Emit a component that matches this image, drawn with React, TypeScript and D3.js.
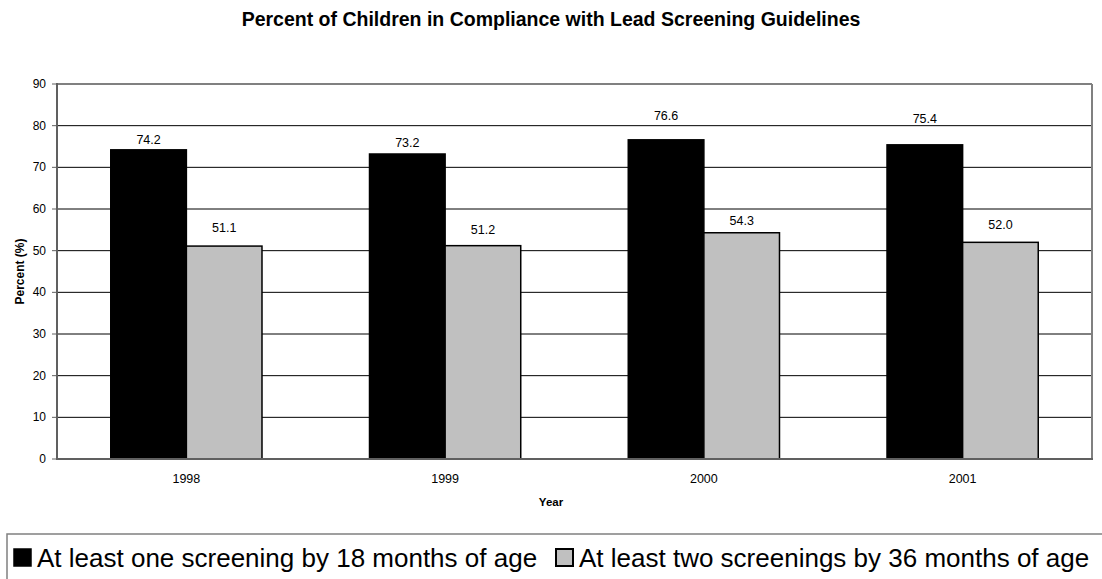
import React from "react";
import * as d3 from "d3";

const years = ["1998", "1999", "2000", "2001"];
const seriesNames = [
  "At least one screening by 18 months of age",
  "At least two screenings by 36 months of age",
];
const oneBy18 = [74.2, 73.2, 76.6, 75.4];
const twoBy36 = [51.1, 51.2, 54.3, 52.0];
const yTicks = [0, 10, 20, 30, 40, 50, 60, 70, 80, 90];

// label distance above bar top (px), styling only
const labelGapOne = [10, 11, 24, 26];
const labelGapTwo = [18, 16, 12, 17];

const W = 1102;
const H = 579;
const plot = { left: 57, right: 1092, top: 84, bottom: 459 };
const FONT = "Arial, 'Liberation Sans', Helvetica, sans-serif";
const colors = ["#000000", "#C0C0C0"];

export default function App() {
  const x0 = d3
    .scaleBand<string>()
    .domain(years)
    .range([plot.left, plot.right])
    .padding(0);
  const x1 = d3
    .scaleBand<number>()
    .domain([0, 1])
    .range([0, x0.bandwidth()])
    .paddingInner(0)
    .paddingOuter(0.711);
  const y = d3.scaleLinear().domain([0, 90]).range([plot.bottom, plot.top]);

  const series = [oneBy18, twoBy36];
  const gaps = [labelGapOne, labelGapTwo];

  return (
    <svg
      width={W}
      height={H}
      style={{ position: "absolute", left: 0, top: 0, display: "block" }}
      fontFamily={FONT}
    >
      <rect x={0} y={0} width={W} height={H} fill="#fff" />
      <text
        x={551}
        y={26}
        textAnchor="middle"
        fontWeight="bold"
        fontSize={19.5}
        fill="#000"
      >
        Percent of Children in Compliance with Lead Screening Guidelines
      </text>

      {/* gridlines */}
      {yTicks.map((t) => (
        <line
          key={"g" + t}
          x1={plot.left}
          x2={plot.right}
          y1={y(t)}
          y2={y(t)}
          stroke={t === 90 ? "#808080" : "#000"}
          strokeWidth={t === 90 ? 2 : 1}
        />
      ))}
      {/* right border */}
      <line
        x1={plot.right}
        x2={plot.right}
        y1={plot.top}
        y2={plot.bottom}
        stroke="#808080"
        strokeWidth={2}
      />

      {/* bars */}
      {series.map((vals, si) =>
        vals.map((v, i) => {
          const bx = (x0(years[i]) as number) + (x1(si) as number);
          const by = y(v);
          return (
            <rect
              key={`b${si}-${i}`}
              x={bx}
              y={by}
              width={x1.bandwidth()}
              height={y(0) - by}
              fill={colors[si]}
              stroke="#000"
              strokeWidth={1.5}
            />
          );
        })
      )}

      {/* value labels */}
      {series.map((vals, si) =>
        vals.map((v, i) => {
          const cx =
            (x0(years[i]) as number) + (x1(si) as number) + x1.bandwidth() / 2;
          return (
            <text
              key={`l${si}-${i}`}
              x={cx}
              y={y(v) - gaps[si][i]}
              textAnchor="middle"
              dominantBaseline="central"
              fontSize={12.5}
              fill="#000"
            >
              {v.toFixed(1)}
            </text>
          );
        })
      )}

      {/* axes */}
      <line
        x1={plot.left}
        x2={plot.left}
        y1={plot.top - 1}
        y2={plot.bottom + 1}
        stroke="#606060"
        strokeWidth={2}
      />
      <line
        x1={plot.left}
        x2={plot.right + 1}
        y1={plot.bottom}
        y2={plot.bottom}
        stroke="#606060"
        strokeWidth={2}
      />
      {yTicks.map((t) => (
        <g key={"t" + t}>
          <line
            x1={plot.left - 5}
            x2={plot.left}
            y1={y(t)}
            y2={y(t)}
            stroke="#606060"
            strokeWidth={1}
          />
          <text
            x={46}
            y={y(t)}
            textAnchor="end"
            dominantBaseline="central"
            fontSize={12}
            fill="#000"
          >
            {t}
          </text>
        </g>
      ))}
      {years.map((yr) => (
        <text
          key={"x" + yr}
          x={(x0(yr) as number) + x0.bandwidth() / 2}
          y={479}
          textAnchor="middle"
          dominantBaseline="central"
          fontSize={12.5}
          fill="#000"
        >
          {yr}
        </text>
      ))}

      <text
        x={551}
        y={502}
        textAnchor="middle"
        dominantBaseline="central"
        fontWeight="bold"
        fontSize={11.5}
        fill="#000"
      >
        Year
      </text>
      <text
        transform={`translate(20, ${(plot.top + plot.bottom) / 2}) rotate(-90)`}
        textAnchor="middle"
        dominantBaseline="central"
        fontWeight="bold"
        fontSize={12}
        fill="#000"
      >
        Percent (%)
      </text>

      {/* legend */}
      <rect
        x={7}
        y={534}
        width={1110}
        height={70}
        fill="#fff"
        stroke="#808080"
        strokeWidth={1.5}
      />
      <rect x={14} y={549} width={17} height={17} fill={colors[0]} stroke="#000" strokeWidth={1.5} />
      <text x={37} y={567} fontSize={26} fill="#000">
        {seriesNames[0]}
      </text>
      <rect x={556} y={549} width={17} height={17} fill={colors[1]} stroke="#000" strokeWidth={2} />
      <text x={579} y={567} fontSize={26} fill="#000">
        {seriesNames[1]}
      </text>
    </svg>
  );
}
